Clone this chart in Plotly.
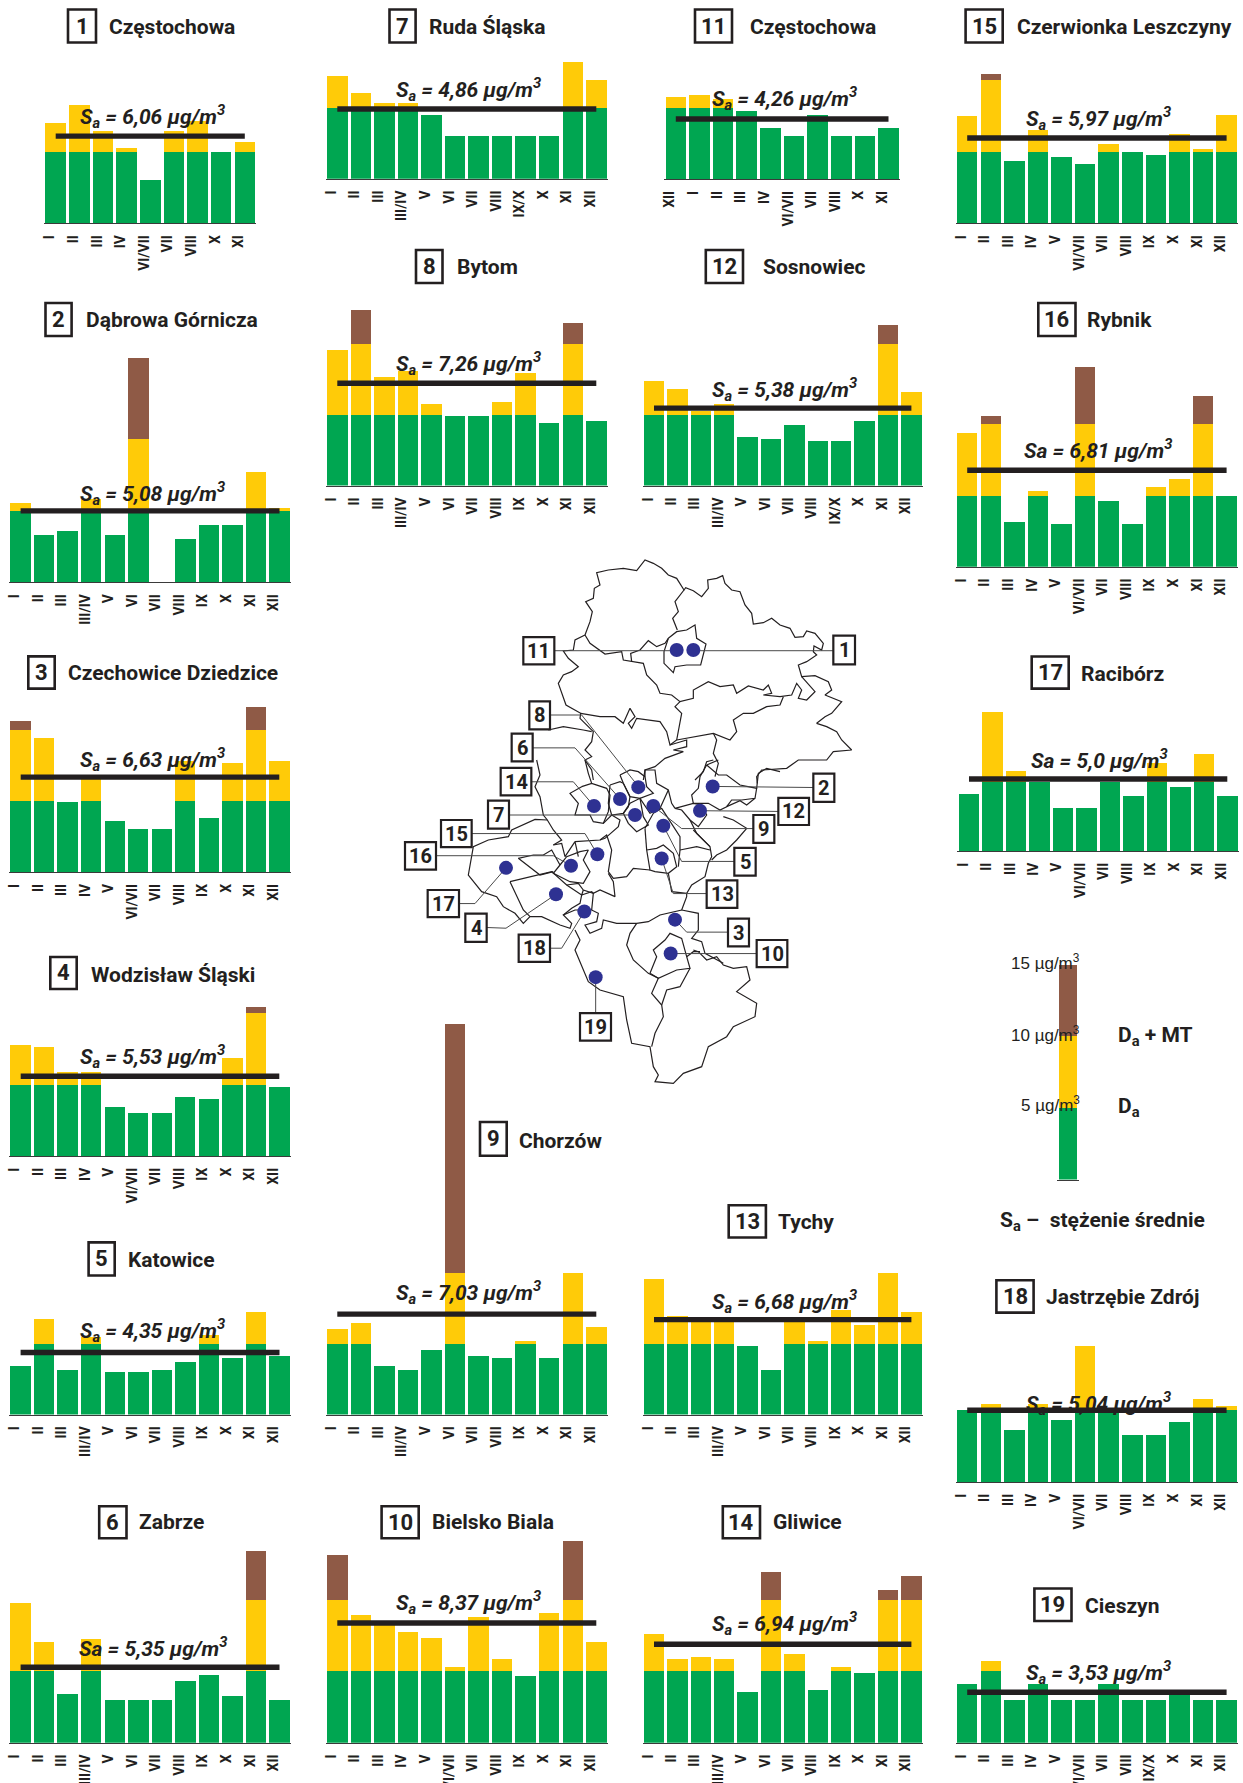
import plotly.graph_objects as go

# ---------- data (µg/m3) ----------
M_A = ["I","II","III","III/IV","V","VI","VII","VIII","IX","X","XI","XII"]
M_B = ["I","II","III","IV","V","VI/VII","VII","VIII","IX","X","XI","XII"]
M_C = ["I","II","III","III/IV","V","VI","VII","VIII","IX/X","X","XI","XII"]
M_D = ["I","II","III","IV","V","VI/VII","VII","VIII","IX/X","X","XI","XII"]
M_1 = ["I","II","III","IV","VI/VII","VII","VIII","X","XI"]
M_11 = ["XII","I","II","III","IV","VI/VII","VII","VIII","X","XI"]

v1 = [7.04,8.29,6.49,5.30,3.04,6.49,7.18,5.0,5.72]
v2 = [5.58,3.29,3.56,5.83,3.29,15.69,0,3.04,3.98,3.98,7.73,5.17]
v3 = [10.63,9.45,4.92,6.78,3.57,3.04,3.04,7.79,3.84,7.66,11.61,7.79]
v4 = [7.78,7.63,5.88,5.88,3.43,3.03,3.03,4.13,4.0,6.83,10.45,4.8]
v5 = [3.43,6.70,3.14,5.47,3.01,3.01,3.14,3.69,5.6,3.98,7.25,4.11]
v6 = [9.77,7.03,3.39,7.29,2.99,2.99,2.99,4.35,4.74,3.28,13.44,2.99]
v7 = [7.22,6.0,5.33,5.33,4.5,3.03,3.03,3.03,3.03,3.03,8.19,6.94]
v8 = [9.58,12.43,7.68,8.1,5.75,4.92,4.92,5.87,7.96,4.39,11.48,4.53]
v9 = [6.02,6.41,3.43,3.14,4.53,27.5,4.11,3.98,5.18,3.98,10.0,6.15]
v10 = [13.15,8.96,8.54,7.76,7.34,5.31,8.8,5.89,4.64,9.09,14.11,7.06]
v11 = [5.75,5.89,5.64,4.78,3.56,3.03,4.5,3.03,3.03,3.56]
v12 = [7.37,6.84,5.25,5.75,3.44,3.3,4.25,3.16,3.16,4.53,11.34,6.59]
v13 = [9.55,6.96,6.6,6.6,4.79,3.14,6.6,5.18,7.36,6.28,9.97,7.23]
v14 = [7.63,5.86,5.99,5.86,3.57,11.93,6.25,3.7,5.31,4.9,10.7,11.67]
v15 = [7.49,10.44,4.36,6.52,4.64,4.12,5.58,5.0,4.78,6.22,5.17,7.6]
v16 = [9.39,10.58,3.14,5.31,3.0,14.0,4.64,3.0,5.58,6.14,11.97,5.0]
v17 = [4.12,10.0,5.77,5.0,3.12,3.12,5.0,3.95,6.38,4.64,7.02,3.95]
v18 = [5.0,5.41,3.65,5.41,4.33,9.46,5.0,3.26,3.26,4.2,5.8,5.31]
v19 = [4.09,5.73,2.99,4.09,2.99,2.99,4.09,2.99,2.99,3.52,2.99,2.99]

names = {1:"Częstochowa",2:"Dąbrowa Górnicza",3:"Czechowice Dziedzice",4:"Wodzisław Śląski",5:"Katowice",
         6:"Zabrze",7:"Ruda Śląska",8:"Bytom",9:"Chorzów",10:"Bielsko Biala",11:"Częstochowa",12:"Sosnowiec",
         13:"Tychy",14:"Gliwice",15:"Czerwionka Leszczyny",16:"Rybnik",17:"Racibórz",18:"Jastrzębie Zdrój",19:"Cieszyn"}
sa_text = {1:"6,06",2:"5,08",3:"6,63",4:"5,53",5:"4,35",6:"5,35",7:"4,86",8:"7,26",9:"7,03",10:"8,37",
           11:"4,26",12:"5,38",13:"6,68",14:"6,94",15:"5,97",16:"6,81",17:"5,0",18:"5,04",19:"3,53"}
sa_level = {1:6.1,2:5.0,3:6.68,4:5.58,5:4.37,6:5.29,7:4.89,8:7.23,9:7.07,10:8.39,
            11:4.22,12:5.47,13:6.68,14:6.9,15:5.97,16:6.78,17:5.19,18:5.0,19:3.54}
values = {1:v1,2:v2,3:v3,4:v4,5:v5,6:v6,7:v7,8:v8,9:v9,10:v10,11:v11,12:v12,13:v13,14:v14,15:v15,16:v16,17:v17,18:v18,19:v19}
months = {1:M_1,2:M_A,3:M_B,4:M_B,5:M_A,6:M_A,7:M_C,8:M_A,9:M_A,10:M_B,11:M_11,12:M_C,13:M_A,14:M_A,15:M_B,16:M_B,17:M_B,18:M_B,19:M_D}

# ---------- layout, in page pixels ----------
W, H = 1243, 1783
# chart: axis left, axis right, first bar centre, last bar centre, baseline y, px per ug
COL1 = (9.1, 290.6, 20.6, 279.5)
COL2 = (326.2, 607.7, 337.3, 596.3)
COL3 = (642.5, 923.3, 654, 911.4)
COL4 = (956.1, 1238, 967.2, 1226.6)
geom = {
 1:(44.3,256.2,55.7,244.8,223.4,14.31), 2:(*COL1,582.4,14.31), 3:(9.3,291,20.7,279.3,872.1,14.21),
 4:(9.3,291,20.7,279.3,1156,14.29), 5:(*COL1,1414.5,14.2), 6:(*COL1,1742.7,14.27),
 7:(*COL2,178.7,14.24), 8:(*COL2,485.6,14.16), 9:(*COL2,1414.5,14.2), 10:(*COL2,1742.7,14.27),
 11:(664.3,900,675.8,888.5,179.1,14.24), 12:(*COL3,485.6,14.16), 13:(*COL3,1414.5,14.2), 14:(*COL3,1742.7,14.27),
 15:(*COL4,223.4,14.31), 16:(*COL4,566.8,14.24), 17:(957.3,1239,969,1227.3,850.9,13.85),
 18:(*COL4,1482,14.35), 19:(*COL4,1742.7,14.27),
}
# title: box left, box right, box top, box bottom, text left, text centre y
titles = {
 1:(68,96,9.5,42.5,108.7,26.5), 7:(389.5,415.6,9.5,42.5,429,26.5), 11:(695,732,9.5,42.5,749.7,26.5), 15:(965.6,1002.7,9.5,42.5,1017.4,26.5),
 8:(416,442.5,250,283,456.7,267), 12:(705.8,743,250,283,763,267),
 2:(45.5,71.6,303,336,85.8,319.5), 16:(1038.3,1075.5,303,336,1087.4,320),
 3:(28.3,54.7,656.4,688.6,68.3,673.2), 17:(1031.7,1068.7,656.5,688.6,1080.7,674.4),
 4:(50.3,76.7,957,989,90.7,975), 9:(480,506.7,1122,1155.7,519,1140.7),
 13:(728.7,765.9,1205.2,1237.5,778,1222.3), 5:(88.6,114.7,1242.4,1275.5,127.7,1260.2), 18:(996.4,1033.6,1280.3,1312.6,1046.2,1297.4),
 6:(99.2,126.5,1506.3,1538.3,138.8,1522.3), 10:(381.6,418.7,1506.3,1538.3,432.2,1522.3), 14:(722.8,760,1506.3,1538.3,773.4,1522.3),
 19:(1034.4,1071.5,1588.5,1621,1084.6,1606.3),
}
# Sa label: left x, centre y
sa_pos = {1:(80,116.6),7:(396,89),8:(396,363.8),2:(80,493),11:(712,98.9),15:(1026,118.6),12:(712,389.5),16:(1024,448.8),
          3:(80,759),4:(80,1056.8),17:(1031,758.6),5:(80,1330.1),9:(396,1292.2),6:(79,1646.8),10:(396,1602.2),13:(712,1301.5),
          14:(712,1623.8),18:(1026,1403.3),19:(1026,1672.9)}

GREEN, YELLOW, BROWN, DARK, BLUE = "#00A651", "#FFCB08", "#8F5A46", "#231F20", "#2E3192"
NARROW = "Roboto, Liberation Sans, sans-serif"
SANS = "Liberation Sans, Arial, sans-serif"

fig = go.Figure()
layout = dict(width=W, height=H, margin=dict(l=0,r=0,t=0,b=0,pad=0), paper_bgcolor="white", plot_bgcolor="rgba(0,0,0,0)",
              showlegend=False, barmode="stack", bargap=0.13)
anns, shapes = [], []
def px(x): return x / W
def py(y): return 1 - y / H

def add_bar_axes(idx, x0, x1, first, last, base, u, ymax, n, cats, tick=True):
    pitch = (last - first) / (n - 1) if n > 1 else (x1 - x0)
    sfx = "" if idx == 1 else str(idx)
    layout["xaxis" + sfx] = dict(domain=[px(x0), px(x1)], type="category", categoryorder="array", categoryarray=cats,
        range=[(x0-first)/pitch, (x1-first)/pitch], anchor="y"+sfx, showgrid=False, zeroline=False, fixedrange=True,
        showline=True, linecolor="#3a3a3a", linewidth=1.2, ticks="", showticklabels=tick, tickangle=-90,
        tickfont=dict(family=NARROW, size=14, color=DARK, weight="bold"), ticklabelshift=-6, ticklabelstandoff=5, automargin=False,
        tickmode="array", tickvals=cats, ticktext=cats)
    top = base - ymax * u
    layout["yaxis" + sfx] = dict(domain=[py(base), py(top)], range=[0, ymax], anchor="x"+sfx, visible=False, fixedrange=True)
    return "x"+sfx, "y"+sfx

for i in range(1, 20):
    v, cats = values[i], months[i]
    x0, x1, first, last, base, u = geom[i]
    xa, ya = add_bar_axes(i, x0, x1, first, last, base, u, max(max(v), sa_level[i]) * 1.02, len(v), cats)
    green = [min(t, 5) for t in v]
    yellow = [max(min(t, 10) - 5, 0) for t in v]
    brown = [max(t - 10, 0) for t in v]
    for series, col in ((green, GREEN), (yellow, YELLOW), (brown, BROWN)):
        fig.add_trace(go.Bar(x=cats, y=series, xaxis=xa, yaxis=ya, marker=dict(color=col, line=dict(width=0))))
    fig.add_trace(go.Scatter(x=[cats[0], cats[-1]], y=[sa_level[i], sa_level[i]], xaxis=xa, yaxis=ya, mode="lines",
                             line=dict(color=DARK, width=5.4), cliponaxis=False))
    # title
    bl, br, bt, bb, tx, ty = titles[i]
    shapes.append(dict(type="rect", xref="paper", yref="paper", x0=px(bl), x1=px(br), y0=py(bb), y1=py(bt),
                       line=dict(color=DARK, width=2.6), fillcolor="white"))
    anns.append(dict(x=px((bl+br)/2), y=py((bt+bb)/2), text=f"<b>{i}</b>", font=dict(family=NARROW, size=22, color=DARK), xanchor="center", yanchor="middle"))
    anns.append(dict(x=px(tx-2), y=py(ty), text=f"<b>{names[i]}</b>", font=dict(family=NARROW, size=21, color=DARK), xanchor="left", yanchor="middle"))
    sx, sy = sa_pos[i]
    head = "S<sub>a</sub>" if i not in (6, 16, 17) else "Sa"
    anns.append(dict(x=px(sx-2), y=py(sy), text=f"<b><i>{head} = {sa_text[i]} µg/m<sup>3</sup></i></b>",
                     font=dict(family=NARROW, size=21, color=DARK), xanchor="left", yanchor="middle"))

# legend bar
xa, ya = add_bar_axes(20, 1056.5, 1079, 1067.7, 1067.7, 1179.6, 14.34, 15.0, 1, ["leg"], tick=False)
layout["xaxis20"]["range"] = [-0.5, 0.5]
for col in (GREEN, YELLOW, BROWN):
    fig.add_trace(go.Bar(x=["leg"], y=[5], xaxis=xa, yaxis=ya, marker=dict(color=col, line=dict(width=0)), width=0.82))
for txt, y in (("15 µg/m<sup>3</sup>", 961.5), ("10 µg/m<sup>3</sup>", 1034), ("5 µg/m<sup>3</sup>", 1104)):
    anns.append(dict(x=px(1082), y=py(y), text=txt, font=dict(family=SANS, size=17, color=DARK), xanchor="right", yanchor="middle"))
anns.append(dict(x=px(1116), y=py(1036), text="<b>D<sub>a</sub> + MT</b>", font=dict(family=NARROW, size=21, color=DARK), xanchor="left", yanchor="middle"))
anns.append(dict(x=px(1116), y=py(1107), text="<b>D<sub>a</sub></b>", font=dict(family=NARROW, size=21, color=DARK), xanchor="left", yanchor="middle"))
anns.append(dict(x=px(998), y=py(1221), text="<b>S<sub>a</sub> –  stężenie średnie</b>", font=dict(family=NARROW, size=21, color=DARK), xanchor="left", yanchor="middle"))

# ---------- map: outlines hand traced on two 3x crops of the picture; axis units: x 1/3 page px from 390, y 1/2.8 page px from 540 ----------
layout["xaxis21"] = dict(domain=[px(390), px(870)], range=[0, 1440], anchor="y21", visible=False, fixedrange=True)
layout["yaxis21"] = dict(domain=[py(1100), py(540)], range=[1568, 0], anchor="x21", visible=False, fixedrange=True)

def crop_a(pts): return [((150 + x/3)*3, (10 + y/3)*2.8) for x, y in pts]
def crop_b(pts): return [((70 + x/3)*3, (220 + y/3)*2.8) for x, y in pts]

north = [
 [(135,255),(150,215),(157,185),(137,155),(160,145),(163,115),(180,105),(170,68),(205,60),(250,55),(290,62),(300,50),(315,30),(340,40),(365,55),(385,75),(410,85),(432,120),(437,113),(460,122),(485,140),(505,115),(503,90),(530,85),(548,77),(555,100),(575,120),(600,125),(615,165),(635,190),(640,222),(670,218),(695,205),(720,225),(750,235),(765,262),(790,260),(800,243),(825,250),(850,280),(845,300),(822,288),(820,305),(830,315),(800,335),(775,345),(785,380),(825,377),(865,395),(875,420),(855,435),(905,455),(875,490),(855,500),(830,520),(860,530),(890,545),(905,570),(935,600),(880,605),(860,630),(820,630),(775,630),(740,655),(665,660),(650,680),(652,700)],
 [(135,255),(105,270),(100,300),(70,303),(85,325),(115,350),(95,365),(70,375),(55,400),(65,430),(78,465),(122,490),(120,505),(160,545),(155,575),(135,600),(155,620),(135,630),(155,660),(160,690)],
 [(25,540),(70,530),(130,540),(155,545)],
 [(135,255),(150,280),(195,312),(245,305),(250,330),(275,335),(310,340),(320,375),(350,405),(360,430),(395,435),(420,455),(460,445),(460,420),(505,395),(540,410),(580,405),(590,430),(625,408),(670,420),(685,405),(695,430),(670,435),(720,440),(755,435),(770,400),(785,420),(775,445),(800,450),(825,425),(790,385),(785,380)],
 [(385,265),(410,245),(440,240),(465,225),(470,265),(498,282),(482,345),(440,345),(405,350),(400,368),(372,340),(372,305),(385,265)],
 [(432,120),(405,155),(415,185),(398,205),(412,240)],
 [(275,335),(272,310),(300,300),(325,272),(350,290),(375,280),(385,265)],
 [(122,490),(180,500),(225,500),(250,520),(270,475),(285,500),(265,520),(275,535),(290,505),(330,510),(360,515),(380,545),(390,585),(410,570),(425,490),(405,470),(420,455)],
 [(390,585),(440,570),(440,590),(400,600),(430,605),(375,625),(345,650),(315,660),(310,690)],
 [(410,570),(520,550),(570,570),(590,545),(580,510),(610,490),(640,490),(680,470),(720,465),(730,440)],
 [(520,550),(530,570),(520,610),(535,640),(525,680)],
 [(520,630),(500,635),(490,665),(465,690)],
]
south = [
 [(230,0),(240,45),(225,80),(240,110),(250,165),(262,180),(280,210),(305,240),(280,255)],
 [(262,180),(225,178),(155,210),(145,230),(85,240),(40,260),(25,345),(65,395),(110,410),(130,440),(165,460),(190,490),(210,470),(245,470),(300,495),(330,505),(335,490),(310,465),(345,450),(395,450),(415,460),(410,485),(375,495),(390,520),(425,505),(430,480),(470,490),(500,490),(530,490),(565,485),(600,465),(665,450),(680,410),(680,400),(695,375),(735,350),(745,310),(755,290),(750,260),(710,220),(690,180)],
 [(345,510),(360,540),(345,570),(365,620),(385,665),(420,690),(490,710),(500,780),(515,850),(570,860),(580,920),(595,945),(585,965),(640,970),(670,940),(725,920),(745,860),(800,830),(820,800),(885,770),(890,730),(830,695),(870,660),(860,620),(820,625),(790,615),(770,590),(740,600),(715,575),(700,570)],
 [(530,490),(510,520),(500,555),(520,600),(565,640),(595,655),(575,700),(605,735),(610,770),(585,820),(575,860)],
 [(570,640),(590,590),(580,570),(615,540),(630,520),(665,535),(680,590),(690,625),(650,630),(595,655),(570,640)],
 [(690,625),(660,680),(620,690),(605,735)],
 [(665,450),(715,460),(715,510),(695,535),(725,545),(735,580),(790,610)],
 [(680,590),(700,575),(720,575)],
 [(560,270),(590,265),(610,255),(640,280),(650,320),(625,340),(585,335),(570,330),(560,270)],
 [(625,340),(635,395),(680,400)],
 [(660,270),(710,260),(750,270)],
 [(555,205),(560,270)],
 [(555,205),(580,160),(605,145),(640,200),(660,230),(660,270),(655,320)],
 [(645,145),(700,130),(725,135),(740,165),(715,200),(690,180),(665,150),(645,145)],
 [(740,15),(775,45),(800,45),(840,75),(890,85),(885,115),(845,120),(815,120),(800,140),(780,150),(745,130),(700,130),(695,105),(715,85),(720,50),(740,15)],
 [(775,0),(740,15)],
 [(885,115),(860,135),(840,122),(800,140)],
 [(790,170),(820,180),(860,205),(830,240),(800,270),(770,285),(755,300)],
 [(700,210),(750,260)],
 [(890,85),(895,40),(920,25),(960,35)],
 [(480,45),(510,30),(535,35),(555,50),(555,30),(585,30),(590,70),(625,90),(635,130),(645,145)],
 [(480,45),(490,70),(510,110),(540,115),(580,100),(560,80),(555,50)],
 [(450,75),(480,65),(490,70),(510,110),(505,140),(490,160),(455,165),(445,130),(450,75)],
 [(490,160),(510,130),(540,115),(550,170),(565,195),(530,215),(505,190),(490,160)],
 [(540,115),(570,160),(600,145),(625,90)],
 [(365,80),(395,70),(440,85),(450,105),(445,155),(430,190),(400,185),(390,165),(345,165),(355,130),(330,100),(365,80)],
 [(375,0),(385,40),(395,70)],
 [(430,190),(455,165),(480,180),(475,200),(435,235),(420,240)],
 [(345,245),(400,240),(420,240),(440,225),(455,270),(445,335),(460,355),(500,350),(520,325),(570,330)],
 [(280,255),(305,250),(315,290),(345,245),(355,290)],
 [(300,315),(320,290),(360,275),(385,270),(370,300),(390,335),(370,370),(330,365),(280,340),(300,315)],
 [(175,295),(220,285),(250,285),(275,270),(300,315)],
 [(175,295),(240,345),(280,335)],
 [(150,365),(240,345),(275,335),(320,375),(365,405),(360,430),(335,445),(310,465)],
 [(150,365),(175,420),(190,450),(210,470)],
 [(320,375),(355,370),(370,390),(400,400),(420,390),(465,410),(460,365),(445,340)],
 [(370,390),(365,405),(395,395),(400,400),(395,450)],
]
leaders = [
 [(493,310),(860,310)], [(910,310),(1330,310)], [(480,490),(575,490),(745,690)], [(428,582),(555,582),(690,725)],
 [(424,677),(550,677),(612,745)], [(357,770),(735,770)], [(245,822),(585,822),(622,880)], [(138,884),(490,884),(543,912)],
 [(207,1018),(255,1018),(348,918)], [(290,1085),(348,1087),(498,992)], [(480,1143),(515,1143),(583,1040)], [(617,1325),(617,1224)],
 [(1270,693),(968,690)], [(1165,760),(930,758)], [(1090,808),(875,808),(790,745)], [(1033,900),(875,900),(820,800)],
 [(950,990),(850,990),(815,892)], [(1014,1098),(890,1098),(855,1063)], [(1100,1158),(842,1158)],
]
dots = [(860,308),(910,308),(745,692),(690,725),(612,745),(735,770),(622,880),(543,912),(348,918),(498,992),(583,1040),(617,1224),
        (968,690),(930,758),(790,745),(820,800),(815,892),(855,1063),(842,1158)]
map_boxes = {11:(400,493,272,348),1:(1330,1395,268,348),8:(418,480,452,530),6:(365,428,542,620),14:(332,424,638,715),7:(294,357,730,808),
             15:(153,245,784,860),16:(45,138,846,923),17:(113,207,980,1056),4:(226,290,1046,1125),18:(386,480,1105,1181),19:(570,663,1325,1402),
             2:(1270,1333,654,733),12:(1165,1257,722,798),9:(1090,1153,770,848),5:(1033,1097,862,940),13:(950,1042,953,1030),3:(1014,1077,1060,1138),10:(1100,1192,1120,1196)}

def poly_trace(pts, color, width):
    return go.Scatter(x=[p[0] for p in pts], y=[p[1] for p in pts], xaxis="x21", yaxis="y21", mode="lines",
                      line=dict(color=color, width=width), hoverinfo="skip")
for seg in north:
    fig.add_trace(poly_trace(crop_a(seg), "#231F20", 1.2))
for seg in south:
    fig.add_trace(poly_trace(crop_b(seg), "#231F20", 1.2))
for seg in leaders:
    fig.add_trace(poly_trace(seg, "#4a4a4a", 1))
fig.add_trace(go.Scatter(x=[d[0] for d in dots], y=[d[1] for d in dots], xaxis="x21", yaxis="y21", mode="markers",
                         marker=dict(color=BLUE, size=14, line=dict(width=0))))
for k, (a, b, c, d) in map_boxes.items():
    shapes.append(dict(type="rect", xref="x21", yref="y21", x0=a, x1=b, y0=c, y1=d, line=dict(color=DARK, width=2.2), fillcolor="white"))
    anns.append(dict(x=(a+b)/2, y=(c+d)/2, xref="x21", yref="y21", text=f"<b>{k}</b>", font=dict(family=NARROW, size=20, color=DARK),
                     xanchor="center", yanchor="middle", showarrow=False))

for a in anns:
    a.setdefault("xref", "paper"); a.setdefault("yref", "paper"); a.setdefault("showarrow", False)
layout["annotations"] = anns
layout["shapes"] = shapes
fig.update_layout(**layout)
fig.write_html("out.html", config={"displayModeBar": False},
               post_script="document.body.style.margin='0';document.documentElement.style.overflow='hidden';")
